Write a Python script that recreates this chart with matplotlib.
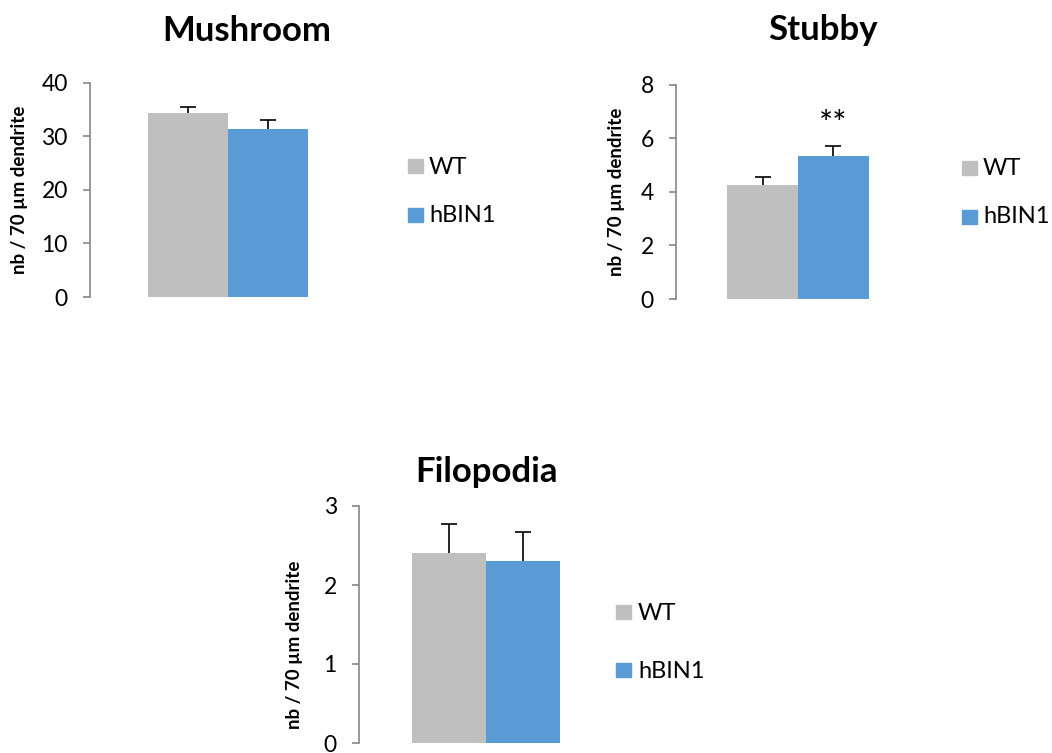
import matplotlib.pyplot as plt

# ======================================
# DATA
# ======================================
groups = ["WT", "hBIN1"]
colors = ["#bfbfbf", "#5b9bd5"]

mushroom_mean = [34.4, 31.4]
mushroom_err = [1.2, 1.7]

stubby_mean = [4.26, 5.35]
stubby_err = [0.31, 0.37]

filopodia_mean = [2.40, 2.30]
filopodia_err = [0.37, 0.37]

ylabel = "nb / 70 µm dendrite"

plt.rcParams["font.family"] = ["Lato", "DejaVu Sans"]

W, H = 1052, 753
fig = plt.figure(figsize=(W / 100, H / 100), dpi=100)


def px_axes(left, top, right, bottom):
    return fig.add_axes([left / W, 1 - bottom / H, (right - left) / W, (bottom - top) / H])


def panel(ax, means, errs, title, title_xy, ymax, step, lab_xy, leg, stars=None):
    bw = 0.29
    xs = [-bw / 2, bw / 2]
    for x, m, e, c in zip(xs, means, errs, colors):
        ax.bar(x, m, width=bw, color=c, zorder=2)
        _, caps, _ = ax.errorbar(x, m, yerr=[[0], [e]], color="black", capsize=6,
                                 elinewidth=1.2, capthick=1.2, fmt="none", zorder=1)
        caps[0].set_visible(False)  # upper bar only
    ax.set_xlim(-0.5, 0.5)
    ax.set_ylim(0, ymax)
    ax.set_yticks([i * step for i in range(int(round(ymax / step)) + 1)])
    ax.set_xticks([])
    for s in ["top", "right", "bottom"]:
        ax.spines[s].set_visible(False)
    ax.spines["left"].set_color("#868686")
    ax.spines["left"].set_linewidth(1.2)
    ax.tick_params(axis="y", colors="#868686", length=5, width=1.2,
                   labelsize=16.5, labelcolor="black", pad=11)
    ax.set_ylabel(ylabel, fontsize=13.5, fontweight="bold")
    ax.yaxis.set_label_coords(*lab_xy)
    if stars:
        ax.text(xs[1], stars, "**", ha="center", va="center", fontsize=24)

    # title over chart area
    fig.text(title_xy[0] / W, 1 - title_xy[1] / H, title, fontsize=25,
             fontweight="bold", ha="center", va="baseline")

    # legend
    sq_x, sq_tops, txt_x, txt_bases = leg
    for g, c, t, b in zip(groups, colors, sq_tops, txt_bases):
        fig.patches.append(plt.Rectangle((sq_x / W, 1 - (t + 14) / H), 15 / W, 14 / H,
                                         color=c, transform=fig.transFigure, figure=fig))
        fig.text(txt_x / W, 1 - b / H, g, fontsize=17, va="baseline", ha="left")


ax1 = px_axes(90, 83, 366, 297)
panel(ax1, mushroom_mean, mushroom_err, "Mushroom", (247, 41), 40, 10,
      (-0.225, 0.5), (408, (159, 208), 429, (174, 222)))

ax2 = px_axes(676, 85, 920, 299)
panel(ax2, stubby_mean, stubby_err, "Stubby", (823, 40), 8, 2,
      (-0.209, 0.5), (962, (161, 210), 983, (175, 223)), stars=6.5)

ax3 = px_axes(359, 506, 613, 743)
panel(ax3, filopodia_mean, filopodia_err, "Filopodia", (487, 482), 3, 1,
      (-0.22, 0.413), (616, (605, 663), 638, (620, 678)))

fig.savefig("out.png", dpi=100)
